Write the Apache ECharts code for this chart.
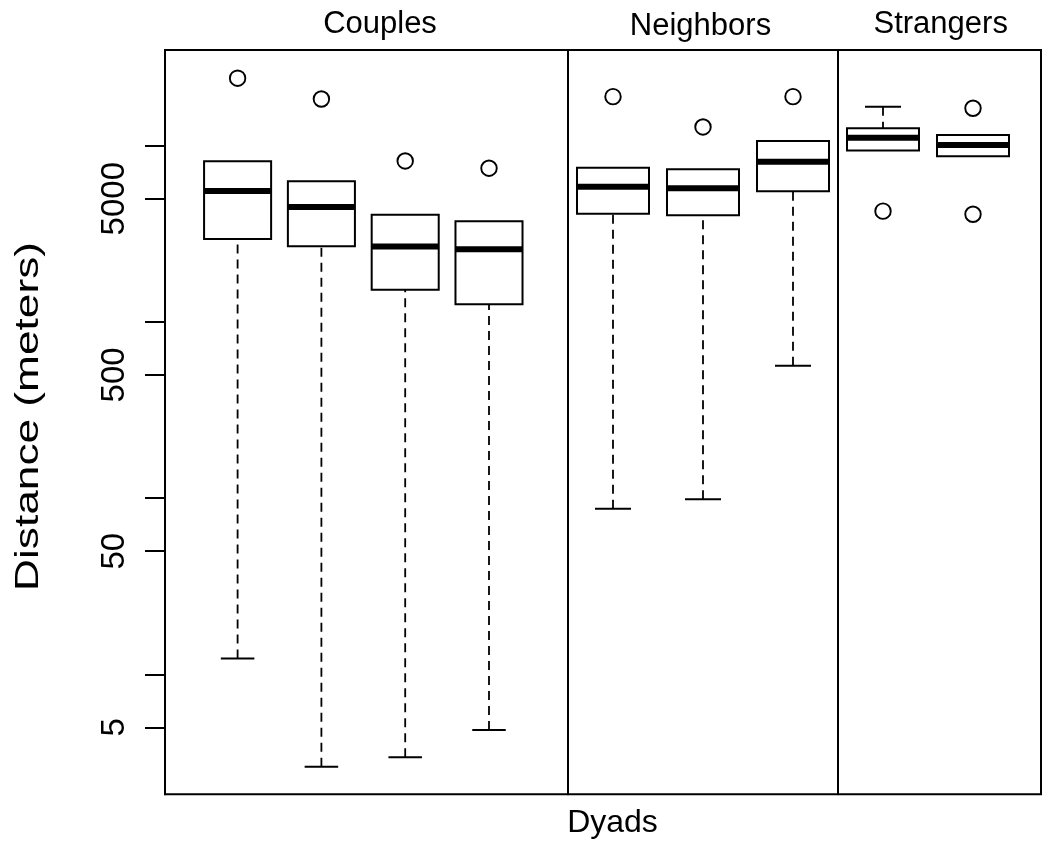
<!DOCTYPE html>
<html><head><meta charset="utf-8">
<script src="https://cdn.jsdelivr.net/npm/echarts@6/dist/echarts.min.js"></script>
<style>html,body{margin:0;padding:0;background:#fff}#c{width:1042px;height:843px}</style>
</head><body><div id="c"></div>
<script>
// ---- data (distances in meters) ----
const panels = ['Couples', 'Neighbors', 'Strangers'];
const xLabel = 'Dyads';
const yLabel = 'Distance (meters)';
const yTicks = [5, 10, 50, 100, 500, 1000, 5000, 10000];
const yTickLabels = [5, 50, 500, 5000];
const yMin = 2.085, yMax = 34900;
// each box: [lower whisker, Q1, median, Q3, upper whisker]
const couplesBoxes = [[12.3, 2950, 5530, 8150, 8150], [2.99, 2690, 4490, 6280, 6280], [3.38, 1520, 2680, 4050, 4050], [4.83, 1260, 2580, 3720, 3720]];
const couplesOutliers = [[24150], [18400], [8190], [7450]];
const neighborsBoxes = [[87.1, 4110, 5850, 7500, 7500], [98.5, 4030, 5730, 7350, 7350], [564, 5510, 8110, 10640, 10640]];
const neighborsOutliers = [[18970], [12770], [18970]];
const strangersBoxes = [[9380, 9380, 11090, 12560, 16630], [8710, 8710, 10090, 11510, 11510]];
const strangersOutliers = [[4250], [4080, 16300]];

const FONT = 'Liberation Sans, Arial, sans-serif';
const chart = echarts.init(document.getElementById('c'), null, {renderer: 'canvas'});

function renderBox(params, api) {
  const i = api.value(0);
  const lo = api.value(1), q1 = api.value(2), med = api.value(3), q3 = api.value(4), hi = api.value(5);
  const bw = api.size([1, 0])[0];
  const half = bw * 0.4, staple = bw * 0.2;
  const pLo = api.coord([i, lo]), pQ1 = api.coord([i, q1]), pMed = api.coord([i, med]),
        pQ3 = api.coord([i, q3]), pHi = api.coord([i, hi]);
  const x = pQ1[0];
  const dash = {stroke: '#000', lineWidth: 1.8, lineDash: [9, 6], fill: null};
  const solid = {stroke: '#000', lineWidth: 2, fill: null};
  const ch = [];
  if (lo < q1) {
    ch.push({type: 'line', shape: {x1: x, y1: pLo[1], x2: x, y2: pQ1[1]}, style: dash});
    ch.push({type: 'line', shape: {x1: x - staple, y1: pLo[1], x2: x + staple, y2: pLo[1]}, style: solid});
  }
  if (hi > q3) {
    ch.push({type: 'line', shape: {x1: x, y1: pHi[1], x2: x, y2: pQ3[1]}, style: dash});
    ch.push({type: 'line', shape: {x1: x - staple, y1: pHi[1], x2: x + staple, y2: pHi[1]}, style: solid});
  }
  ch.push({type: 'rect', shape: {x: x - half, y: pQ3[1], width: 2 * half, height: pQ1[1] - pQ3[1]},
           style: {fill: '#fff', stroke: '#000', lineWidth: 2}});
  ch.push({type: 'line', shape: {x1: x - half, y1: pMed[1], x2: x + half, y2: pMed[1]},
           style: {stroke: '#000', lineWidth: 6}});
  return {type: 'group', children: ch};
}

const boxSets = [couplesBoxes, neighborsBoxes, strangersBoxes];
const outSets = [couplesOutliers, neighborsOutliers, strangersOutliers];
const gridRects = [
  {left: 195.7, width: 335.2},
  {left: 568, width: 270},
  {left: 838, width: 180}
];
const TOP = 50, HEIGHT = 744.3;

const grids = [{left: 165, top: TOP, width: 876, height: HEIGHT, show: true, borderColor: '#000', borderWidth: 2, backgroundColor: 'transparent'}];
const xAxes = [{type: 'value', gridIndex: 0, min: 0, max: 1, show: false}];
const yAxes = [{
  type: 'log', gridIndex: 0, min: yMin, max: yMax, logBase: 10,
  axisLine: {show: true, lineStyle: {color: '#000', width: 2}},
  axisTick: {show: true, inside: false, length: 20, customValues: yTicks, lineStyle: {color: '#000', width: 2}},
  axisLabel: {show: true, customValues: yTickLabels, rotate: 90, margin: 34, fontSize: 33, fontFamily: FONT, color: '#000',
              formatter: v => String(v)},
  splitLine: {show: false}
}];
const series = [];
boxSets.forEach((boxes, p) => {
  grids.push({left: gridRects[p].left, width: gridRects[p].width, top: TOP, height: HEIGHT, show: false});
  xAxes.push({type: 'category', gridIndex: p + 1, data: boxes.map((b, k) => String(k + 1)),
              axisLine: {show: false}, axisTick: {show: false}, axisLabel: {show: false}, splitLine: {show: false}});
  yAxes.push({type: 'log', gridIndex: p + 1, min: yMin, max: yMax, logBase: 10,
              axisLine: {show: p > 0, lineStyle: {color: '#000', width: 2}},
              axisTick: {show: false}, axisLabel: {show: false}, splitLine: {show: false}});
  series.push({
    type: 'custom', xAxisIndex: p + 1, yAxisIndex: p + 1, renderItem: renderBox,
    encode: {x: 0, y: [1, 2, 3, 4, 5]},
    data: boxes.map((b, k) => [k].concat(b)), z: 2
  });
  const pts = [];
  outSets[p].forEach((arr, k) => arr.forEach(v => pts.push([k, v])));
  series.push({
    type: 'scatter', xAxisIndex: p + 1, yAxisIndex: p + 1, symbol: 'circle', symbolSize: 15.5,
    itemStyle: {color: '#fff', borderColor: '#000', borderWidth: 1.9, opacity: 1},
    data: pts, z: 3, silent: true
  });
});

const titlePos = [[380, 40], [700.5, 41.5], [940.7, 40]];
const graphics = panels.map((t, p) => ({
  type: 'text', x: titlePos[p][0], y: titlePos[p][1],
  style: {text: t, fontSize: 31, fontFamily: FONT, fill: '#000', textAlign: 'center', textVerticalAlign: 'bottom'}
}));
graphics.push({type: 'text', x: 612.5, y: 839.5,
  style: {text: xLabel, fontSize: 32, fontFamily: FONT, fill: '#000', textAlign: 'center', textVerticalAlign: 'bottom'}});
graphics.push({type: 'text', x: 28.5, y: 416.5, rotation: Math.PI / 2, scaleX: 1.34, scaleY: 1,
  style: {text: yLabel, fontSize: 33, fontFamily: FONT, fill: '#000', textAlign: 'center', textVerticalAlign: 'middle'}});

chart.setOption({
  animation: false,
  backgroundColor: '#fff',
  grid: grids, xAxis: xAxes, yAxis: yAxes, series: series, graphic: graphics
});
</script></body></html>
